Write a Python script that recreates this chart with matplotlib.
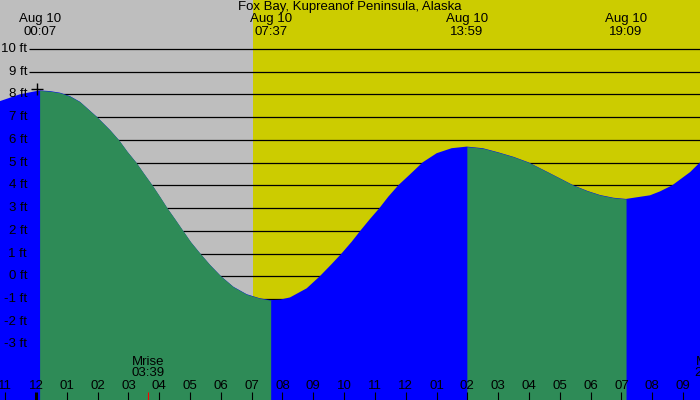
import matplotlib
matplotlib.use("Agg")
import matplotlib.pyplot as plt
import matplotlib.transforms as mtransforms
import numpy as np

plt.rcParams['font.family'] = ['Liberation Sans', 'DejaVu Sans']

title = "Fox Bay, Kupreanof Peninsula, Alaska"

# tide curve (hours since midnight, feet)
curve_hours = [-1.168, -0.52, 0.117, 0.454, 0.779, 1.10, 1.428, 1.99, 2.402, 2.694,
               2.963, 3.246, 3.505, 3.775, 4.025, 4.262, 4.512, 4.761, 5.021, 5.323,
               5.648, 6.005, 6.404, 6.839, 7.27, 7.617, 7.92, 8.244, 8.786, 9.218,
               9.598, 9.922, 10.247, 10.549, 10.841, 11.142, 11.435, 11.759, 12.139,
               12.551, 13.005, 13.492, 13.983, 14.5, 15.0, 15.5, 15.98, 16.68, 17.44,
               17.9, 18.31, 18.75, 19.15, 19.93, 20.25, 20.65, 21.23, 21.55]
curve_ft = [7.70, 8.0, 8.17, 8.14, 8.07, 7.92, 7.67, 6.99, 6.43, 5.98,
            5.48, 5.01, 4.51, 4.00, 3.49, 2.99, 2.51, 2.02, 1.51, 1.01,
            0.50, 0.00, -0.46, -0.79, -0.97, -1.05, -1.03, -0.93, -0.53, 0.01,
            0.54, 1.01, 1.52, 2.04, 2.52, 2.99, 3.50, 4.00, 4.48,
            5.01, 5.41, 5.63, 5.70, 5.63, 5.45, 5.25, 5.01, 4.53, 4.00,
            3.75, 3.57, 3.45, 3.40, 3.56, 3.73, 4.00, 4.58, 5.01]

# high / low tides
extreme_hours = [0.117, 7.617, 13.983, 19.15]
extreme_labels = ["00:07", "07:37", "13:59", "19:09"]
extreme_date = "Aug 10"

sunrise = 7.04
moon_events = [("Mrise", "03:39", 3.65), ("Mset", "21:54", 21.9)]

levels_ft = list(range(-3, 11))
hours = list(range(-1, 22))

x_min, x_max = -1.168, 21.55
y_min, y_max = -5.44, 12.145

night_color = "#bebebe"
day_color = "#cccc00"
fall_color = "#2e8b57"
rise_color = "#0000ff"
fs = 9.5

fig = plt.figure(figsize=(7, 4), dpi=100)
ax = fig.add_axes([0, 0, 1, 1])
ax.set_xlim(x_min, x_max)
ax.set_ylim(y_min, y_max)
ax.axis("off")

# day / night background
ax.axvspan(x_min, sunrise, color=night_color, zorder=0, linewidth=0)
ax.axvspan(sunrise, x_max, color=day_color, zorder=0, linewidth=0)

# level lines and labels
ax.hlines(levels_ft, -0.217, x_max, color="k", linewidth=0.9, zorder=1)
for lev in levels_ft:
    ax.text(-0.29, lev, f"{lev} ft", ha="right", va="center", fontsize=fs, zorder=5)

# tide fill: blue everywhere, green on top where the tide falls
t = np.array(curve_hours)
h = np.array(curve_ft)
ax.fill_between(t, h, y_min, color=rise_color, linewidth=0, zorder=2)
bounds = [x_min] + extreme_hours + [x_max]
for a, b in zip(bounds[:-1], bounds[1:]):
    m = (t >= a - 1e-9) & (t <= b + 1e-9)
    seg_t, seg_h = t[m], h[m]
    if seg_h[-1] < seg_h[0]:
        ax.fill_between(seg_t, seg_h, y_min, color=fall_color, linewidth=0, zorder=3)

# marker at the first high tide
ax.plot(extreme_hours[0] - 0.07, curve_ft[2] + 0.05, marker="+", color="k",
        markersize=8, markeredgewidth=1, zorder=6)

trans = mtransforms.blended_transform_factory(ax.transData, ax.transAxes)

def py(p):
    return 1 - p / 400.0

ax.text((x_min + x_max) / 2, py(7.3), title, transform=trans, ha="center",
        va="center", fontsize=fs, zorder=6)
for xh, lab in zip(extreme_hours, extreme_labels):
    ax.text(xh, py(19.3), extreme_date, transform=trans, ha="center", va="center",
            fontsize=fs, zorder=6)
    ax.text(xh, py(31.7), lab, transform=trans, ha="center", va="center",
            fontsize=fs, zorder=6)

# hour ticks along the bottom
for hr in hours:
    lab = f"{(hr % 12) or 12:02d}"
    ax.text(hr, py(385.7), lab, transform=trans, ha="center", va="center",
            fontsize=fs, zorder=6)
    lw = 2.2 if hr == 0 else 0.8
    ax.plot([hr, hr], [py(392), py(400)], transform=trans, color="k", linewidth=lw,
            solid_capstyle="butt", zorder=6)

for name, tm, xh in moon_events:
    ax.text(xh, py(361.7), name, transform=trans, ha="center", va="center",
            fontsize=fs, zorder=6)
    ax.text(xh, py(373.3), tm, transform=trans, ha="center", va="center",
            fontsize=fs, zorder=6)
    ax.plot([xh, xh], [py(392), py(400)], transform=trans, color="red", linewidth=0.8,
            solid_capstyle="butt", zorder=6)

fig.savefig("out.png", dpi=100)
